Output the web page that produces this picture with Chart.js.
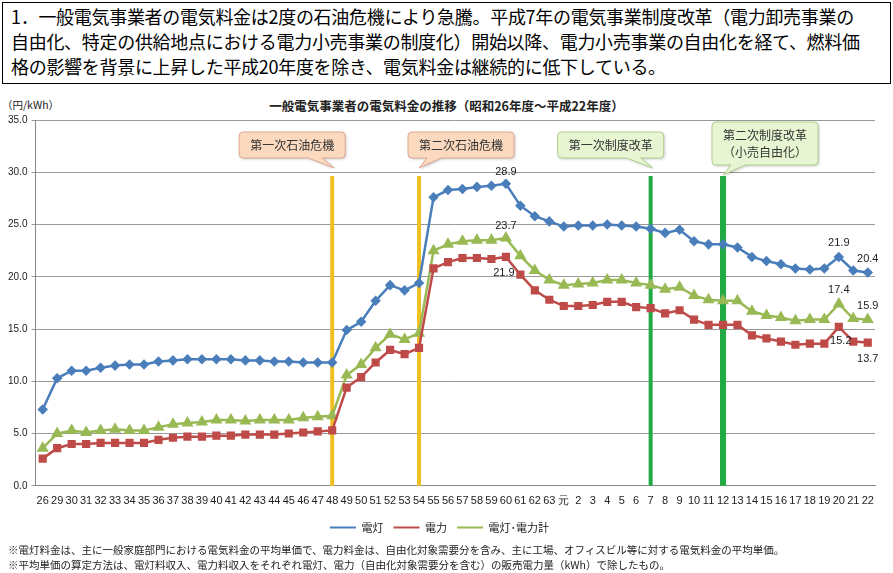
<!DOCTYPE html>
<html><head><meta charset="utf-8">
<script src="https://cdn.jsdelivr.net/npm/chart.js@4"></script>
<style>
body{margin:0;width:893px;height:573px;position:relative;background:#fff;font-family:"Noto Sans CJK JP",sans-serif;overflow:hidden}
#hdr{position:absolute;left:2px;top:2px;border:1.5px solid #000;font-size:18px;line-height:25px;padding:1px 0 0 8px;box-sizing:border-box;width:889px;height:82px;white-space:nowrap;letter-spacing:-0.3px}
#ttl{position:absolute;left:0;width:893px;top:96px;text-align:center;font-size:12.5px;font-weight:bold;color:#222}
#unit{position:absolute;left:2px;top:97px;font-size:10.5px;color:#222}
#fn{position:absolute;left:8px;top:542px;font-size:10.5px;line-height:15px;color:#222}
canvas{position:absolute;left:0;top:0}
</style></head><body>
<div id="hdr">1．一般電気事業者の電気料金は2度の石油危機により急騰。平成7年の電気事業制度改革（電力卸売事業の<br>自由化、特定の供給地点における電力小売事業の制度化）開始以降、電力小売事業の自由化を経て、燃料価<br>格の影響を背景に上昇した平成20年度を除き、電気料金は継続的に低下している。</div>
<div id="ttl">一般電気事業者の電気料金の推移（昭和26年度～平成22年度）</div>
<div id="unit">（円/kWh）</div>
<div style="position:absolute;left:0;top:0;width:893px;height:573px"><canvas id="c" width="893" height="573"></canvas></div>
<div id="fn">※電灯料金は、主に一般家庭部門における電気料金の平均単価で、電力料金は、自由化対象需要分を含み、主に工場、オフィスビル等に対する電気料金の平均単価。<br>※平均単価の算定方法は、電灯料収入、電力料収入をそれぞれ電灯、電力（自由化対象需要分を含む）の販売電力量（kWh）で除したもの。</div>
<script>
const categories=["26","29","30","31","32","33","34","35","36","37","38","39","40","41","42","43","44","45","46","47","48","49","50","51","52","53","54","55","56","57","58","59","60","61","62","63","元","2","3","4","5","6","7","8","9","10","11","12","13","14","15","16","17","18","19","20","21","22"];
const dento=[7.3,10.3,11.0,11.0,11.3,11.5,11.6,11.6,11.9,12.0,12.1,12.1,12.1,12.1,12.0,12.0,11.9,11.9,11.8,11.8,11.8,14.9,15.7,17.7,19.2,18.7,19.4,27.6,28.3,28.4,28.6,28.7,28.9,26.8,25.8,25.3,24.8,24.9,24.9,25.0,24.9,24.8,24.6,24.2,24.5,23.4,23.1,23.1,22.8,21.9,21.5,21.2,20.8,20.7,20.8,21.9,20.6,20.4];
const denryoku=[2.6,3.6,4.0,4.0,4.1,4.1,4.1,4.1,4.4,4.6,4.7,4.7,4.8,4.8,4.9,4.9,4.9,5.0,5.1,5.2,5.3,9.4,10.4,11.8,13.0,12.6,13.2,20.8,21.4,21.8,21.8,21.7,21.9,20.2,18.7,17.8,17.2,17.2,17.3,17.6,17.6,17.1,17.0,16.5,16.8,15.9,15.4,15.4,15.4,14.4,14.1,13.8,13.5,13.6,13.6,15.2,13.8,13.7];
const total=[3.6,5.0,5.3,5.1,5.3,5.4,5.3,5.3,5.6,5.9,6.0,6.1,6.3,6.3,6.2,6.3,6.3,6.3,6.5,6.6,6.7,10.6,11.6,13.2,14.5,14.0,14.6,22.5,23.1,23.4,23.5,23.5,23.7,22.0,20.6,19.7,19.2,19.3,19.4,19.7,19.7,19.4,19.2,18.8,19.0,18.2,17.8,17.7,17.7,16.7,16.3,16.1,15.8,15.9,15.9,17.4,16.0,15.9];
const yTicks=[0,5,10,15,20,25,30,35];
const events=[{cat:"48",color:"#f0c020",w:4,label:["第一次石油危機"],fill:"#fbd9bf",stroke:"#e0a890",bx:-40},
{cat:"54",color:"#f0c020",w:4,label:["第二次石油危機"],fill:"#fbd9bf",stroke:"#e0a890",bx:42},
{cat:"7",color:"#22aa44",w:4,label:["第一次制度改革"],fill:"#e8f5d2",stroke:"#b0d090",bx:-40},
{cat:"12",color:"#22aa44",w:6,label:["第二次制度改革","（小売自由化）"],fill:"#e8f5d2",stroke:"#b0d090",bx:42}];
const valueLabels=[[0,32,"28.9",0,-12],[2,32,"23.7",0,-12],[1,32,"21.9",-2,16],[0,55,"21.9",0,-14],[0,57,"20.4",0,-14],[2,55,"17.4",0,-14],[2,57,"15.9",0,-14],[1,55,"15.2",2,14],[1,57,"13.7",0,16]];
const deco={id:'deco',
 beforeDatasetsDraw(ch){const c=ch.ctx,x=ch.scales.x;
  events.forEach(e=>{const px=x.getPixelForValue(categories.indexOf(e.cat));c.save();c.fillStyle=e.color;c.fillRect(px-e.w/2,ch.chartArea.top+56,e.w,ch.chartArea.bottom-ch.chartArea.top-56);c.restore();});},
 afterDatasetsDraw(ch){const c=ch.ctx,x=ch.scales.x;
  events.forEach(e=>{const px=x.getPixelForValue(categories.indexOf(e.cat));
   c.save();c.font='12px "Noto Sans CJK JP"';
   const w=Math.max(...e.label.map(t=>c.measureText(t).width))+22;const h=e.label.length*17+9;
   const cx=px+e.bx;const top=ch.chartArea.top+(e.label.length>1?2:12);const bx=cx-w/2;
   c.shadowColor='rgba(0,0,0,0.25)';c.shadowBlur=3;c.shadowOffsetX=1;c.shadowOffsetY=1;
   c.fillStyle=e.fill;c.strokeStyle=e.stroke;c.lineWidth=1;
   c.beginPath();const r=4;c.moveTo(bx+r,top);c.lineTo(bx+w-r,top);c.quadraticCurveTo(bx+w,top,bx+w,top+r);c.lineTo(bx+w,top+h-r);c.quadraticCurveTo(bx+w,top+h,bx+w-r,top+h);
   if(e.bx<0){c.lineTo(px-10,top+h);c.lineTo(px+2,top+h+10);c.lineTo(px-24,top+h);}
   else{c.lineTo(px+22,top+h);c.lineTo(px,top+h+10);c.lineTo(px+8,top+h);}
   c.lineTo(bx+r,top+h);c.quadraticCurveTo(bx,top+h,bx,top+h-r);c.lineTo(bx,top+r);c.quadraticCurveTo(bx,top,bx+r,top);c.closePath();c.fill();c.shadowColor='transparent';c.stroke();
   c.fillStyle='#333';c.textAlign='center';c.textBaseline='middle';
   e.label.forEach((t,i)=>c.fillText(t,cx,top+13+i*17));c.restore();});
  c.save();c.font='11px "Liberation Sans",Arial';c.fillStyle='#222';c.textAlign='center';c.textBaseline='middle';
  valueLabels.forEach(([d,i,t,dx,dy])=>{const m=ch.getDatasetMeta(d).data[i];c.fillText(t,m.x+dx,m.y+dy);});c.restore();}};
new Chart(document.getElementById('c'),{type:'line',
 data:{labels:categories,datasets:[
 {label:'電灯',data:dento,borderColor:'#4a7ebb',backgroundColor:'#4a7ebb',pointStyle:'rectRot',pointRadius:3.5,borderWidth:2.5,tension:0},
 {label:'電力',data:denryoku,borderColor:'#be4b48',backgroundColor:'#be4b48',pointStyle:'rect',pointRadius:4,borderWidth:2.5,tension:0},
 {label:'電灯･電力計',data:total,borderColor:'#98b954',backgroundColor:'#98b954',pointStyle:'triangle',pointRadius:4.5,borderWidth:2.5,tension:0}]},
 options:{responsive:false,animation:false,
  layout:{padding:{left:4,right:18,top:120,bottom:30}},
  plugins:{legend:{position:'bottom',labels:{font:{size:11,family:'"Noto Sans CJK JP"'},color:'#222',boxWidth:26,boxHeight:2,
    generateLabels(ch){return ch.data.datasets.map((d,i)=>({text:d.label,fillStyle:d.borderColor,strokeStyle:d.borderColor,lineWidth:0,datasetIndex:i,fontColor:'#222'}));}}},
   tooltip:{enabled:false}},
  scales:{x:{offset:true,grid:{display:false,tickLength:5},border:{color:'#888'},ticks:{color:'#222',font:{size:11,family:'"Liberation Sans"'},autoSkip:false,maxRotation:0,padding:4}},
   y:{min:0,max:35,afterBuildTicks(s){s.ticks=yTicks.map(v=>({value:v}));},grid:{color:'#999',tickLength:4},border:{color:'#888'},ticks:{color:'#222',font:{size:10,family:'"Liberation Sans"'},callback:v=>v.toFixed(1),padding:4}}}},
 plugins:[deco]});
</script></body></html>
